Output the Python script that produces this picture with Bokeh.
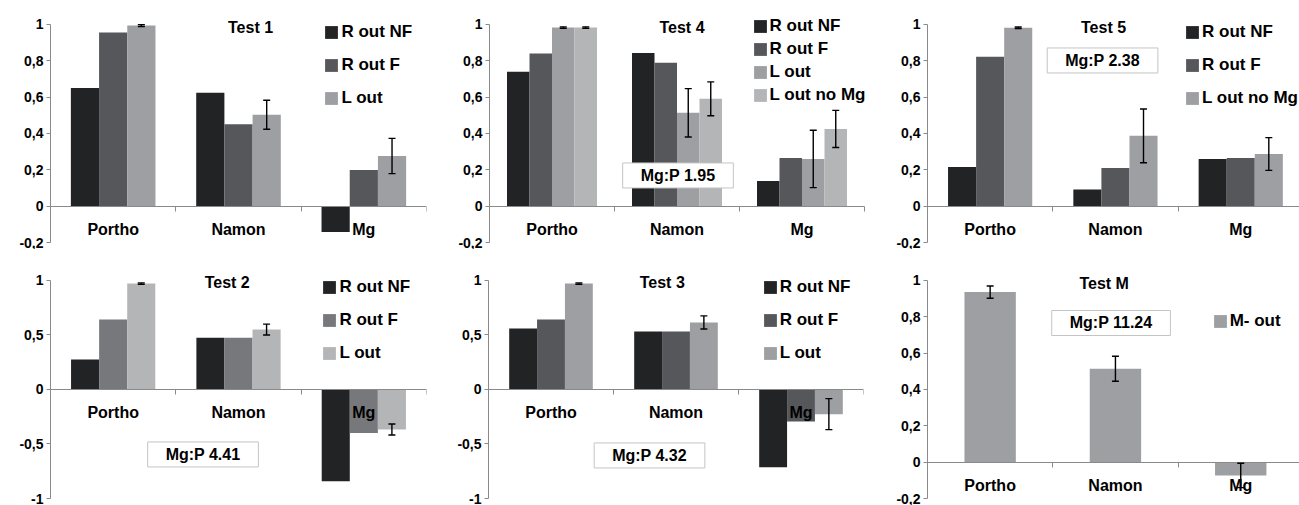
from bokeh.plotting import figure
from bokeh.models import (ColumnDataSource, Range1d, LinearAxis, FixedTicker,
                          CustomJSTickFormatter, Legend, LegendItem, Whisker,
                          TeeHead, Label)
from bokeh.layouts import row, column
from bokeh.embed import file_html
from bokeh.resources import INLINE

FONT = "Liberation Sans"

# ---------------- data ----------------
categories = ["Portho", "Namon", "Mg"]

yticks_a = [-0.2, 0, 0.2, 0.4, 0.6, 0.8, 1]
ylabels_a = ["-0,2", "0", "0,2", "0,4", "0,6", "0,8", "1"]
yticks_b = [-1, -0.5, 0, 0.5, 1]
ylabels_b = ["-1", "-0,5", "0", "0,5", "1"]

# Test 1
t1_labels = ["R out NF", "R out F", "L out"]
t1_nf = [0.65, 0.624, -0.142]
t1_f = [0.956, 0.451, 0.199]
t1_l = [0.994, 0.503, 0.276]
t1_l_err = [0.005, 0.08, 0.097]
t1_box = ""

# Test 4
t4_labels = ["R out NF", "R out F", "L out", "L out no Mg"]
t4_nf = [0.74, 0.843, 0.138]
t4_f = [0.84, 0.79, 0.265]
t4_l = [0.983, 0.514, 0.26]
t4_l_err = [0.004, 0.133, 0.158]
t4_lnm = [0.983, 0.591, 0.425]
t4_lnm_err = [0.004, 0.093, 0.102]
t4_box = "Mg:P 1.95"

# Test 5
t5_labels = ["R out NF", "R out F", "L out no Mg"]
t5_nf = [0.215, 0.092, 0.26]
t5_f = [0.823, 0.21, 0.265]
t5_lnm = [0.982, 0.387, 0.287]
t5_lnm_err = [0.004, 0.148, 0.09]
t5_box = "Mg:P 2.38"

# Test 2
t2_labels = ["R out NF", "R out F", "L out"]
t2_nf = [0.275, 0.474, -0.841]
t2_f = [0.642, 0.474, -0.40]
t2_l = [0.972, 0.55, -0.367]
t2_l_err = [0.006, 0.05, 0.05]
t2_box = "Mg:P 4.41"

# Test 3
t3_labels = ["R out NF", "R out F", "L out"]
t3_nf = [0.56, 0.532, -0.713]
t3_f = [0.642, 0.532, -0.294]
t3_l = [0.972, 0.615, -0.226]
t3_l_err = [0.006, 0.06, 0.142]
t3_box = "Mg:P 4.32"

# Test M
tm_labels = ["M- out"]
tm_m = [0.936, 0.514, -0.073]
tm_m_err = [0.034, 0.069, 0.067]
tm_box = "Mg:P 11.24"

# ---------------- style ----------------
C_NF = "#222325"
C_F = "#55575a"
C_F2 = "#77787b"
C_L = "#9d9fa2"
C_L2 = "#b3b5b7"
AXIS_C = "#8a8a8a"


def tick_formatter(vals, labels):
    return CustomJSTickFormatter(
        args=dict(tvals=vals, tlabels=labels),
        code="""
        for (let i = 0; i < tvals.length; i++) {
            if (Math.abs(tvals[i] - tick) < 1e-9) return tlabels[i];
        }
        return '';
        """)


def make_panel(series, yticks, ylabels, yr, ybounds, x_end, width, height,
               bl, br, bt, bb, bar_w, title, title_xy, box_text, box_xy,
               legend_xy, legend_spacing):
    p = figure(width=width, height=height, x_range=Range1d(0, x_end),
               y_range=Range1d(*yr), x_axis_type=None, y_axis_type=None,
               output_backend="svg", toolbar_location=None, title=None,
               min_border_left=bl, min_border_right=br, min_border_top=bt,
               min_border_bottom=bb)
    p.outline_line_color = None
    p.background_fill_color = "white"

    n = len(series)
    items = []
    for k, (label, vals, err, color) in enumerate(series):
        off = (k - (n - 1) / 2) * bar_w
        xs = [i + 0.5 + off for i in range(len(categories))]
        src = ColumnDataSource(dict(x=xs, top=vals))
        r = p.vbar(x="x", top="top", width=bar_w, source=src,
                   fill_color=color, line_color=None)
        items.append(LegendItem(label=label, renderers=[r]))
        if err is not None:
            wsrc = ColumnDataSource(dict(
                base=xs,
                upper=[v + e for v, e in zip(vals, err)],
                lower=[v - e for v, e in zip(vals, err)]))
            w = Whisker(source=wsrc, base="base", upper="upper", lower="lower",
                        line_color="black", line_width=1.4, level="overlay",
                        upper_head=TeeHead(size=7, line_color="black", line_width=1.4),
                        lower_head=TeeHead(size=7, line_color="black", line_width=1.4))
            p.add_layout(w)

    # y axis
    yax = LinearAxis(ticker=FixedTicker(ticks=yticks),
                     formatter=tick_formatter(yticks, ylabels), bounds=ybounds)
    yax.axis_line_color = AXIS_C
    yax.major_tick_line_color = AXIS_C
    yax.major_tick_out = 4
    yax.major_tick_in = 0
    yax.minor_tick_line_color = None
    yax.major_label_standoff = 3
    yax.major_label_text_font = FONT
    yax.major_label_text_font_style = "bold"
    yax.major_label_text_font_size = "14px"
    yax.major_label_text_color = "black"
    p.add_layout(yax, "left")

    # x axis line at zero with ticks at category boundaries
    nb = len(categories)
    xax = LinearAxis(fixed_location=0,
                     ticker=FixedTicker(ticks=list(range(nb + 1))),
                     formatter=tick_formatter([], []),
                     bounds=(0, min(nb, x_end)))
    xax.axis_line_color = AXIS_C
    xax.major_tick_line_color = AXIS_C
    xax.major_tick_out = 5
    xax.major_tick_in = 0
    xax.minor_tick_line_color = None
    xax.major_label_text_font_size = "0px"
    p.add_layout(xax, "below")

    # category labels
    centers = [i + 0.5 for i in range(nb)]
    cax = LinearAxis(fixed_location=0, ticker=FixedTicker(ticks=centers),
                     formatter=tick_formatter(centers, categories))
    cax.axis_line_color = None
    cax.major_tick_line_color = None
    cax.major_tick_out = 0
    cax.major_tick_in = 0
    cax.minor_tick_line_color = None
    cax.major_label_standoff = 15
    cax.major_label_text_font = FONT
    cax.major_label_text_font_style = "bold"
    cax.major_label_text_font_size = "16px"
    cax.major_label_text_color = "black"
    p.add_layout(cax, "below")

    # title
    p.add_layout(Label(x=title_xy[0], y=title_xy[1], text=title,
                       text_font=FONT, text_font_style="bold",
                       text_font_size="16px", text_align="center",
                       text_baseline="middle", text_color="black"))

    # Mg:P box
    if box_text:
        p.add_layout(Label(x=box_xy[0], y=box_xy[1], text=box_text,
                           text_font=FONT, text_font_style="bold",
                           text_font_size="16px", text_align="center",
                           text_baseline="middle", text_color="black",
                           border_line_color="#c4c4c4", border_line_width=1,
                           background_fill_color="white",
                           padding=(18, 18, 4, 4)))

    legend = Legend(items=items, location=legend_xy)
    legend.background_fill_alpha = 0
    legend.border_line_color = None
    legend.padding = 0
    legend.margin = 0
    legend.spacing = int(legend_spacing)
    legend.glyph_width = 16
    legend.glyph_height = 16
    legend.label_standoff = 2
    legend.label_height = 20
    legend.label_text_font = FONT
    legend.label_text_font_style = "bold"
    legend.label_text_font_size = "17px"
    legend.label_text_color = "black"
    p.add_layout(legend)
    return p


TOP_A = (-0.2, 1.099)
BOT_B = (-1.0, 1.165)

p1 = make_panel([(t1_labels[0], t1_nf, None, C_NF),
                 (t1_labels[1], t1_f, None, C_F),
                 (t1_labels[2], t1_l, t1_l_err, C_L)],
                yticks_a, ylabels_a, TOP_A, (-0.2, 1), 3, 438, 249, 50, 12, 6, 7,
                0.225, "Test 1", (1.596, 0.983), t1_box, (0, 0), (273.4, 134), 13)

p2 = make_panel([(t4_labels[0], t4_nf, None, C_NF),
                 (t4_labels[1], t4_f, None, C_F),
                 (t4_labels[2], t4_l, t4_l_err, C_L),
                 (t4_labels[3], t4_lnm, t4_lnm_err, C_L2)],
                yticks_a, ylabels_a, TOP_A, (-0.2, 1), 3.032, 430, 249, 51, 0, 6, 7,
                0.18, "Test 4", (1.54, 0.983), t4_box, (1.508, 0.169), (262.5, 137), 3)

p3 = make_panel([(t5_labels[0], t5_nf, None, C_NF),
                 (t5_labels[1], t5_f, None, C_F),
                 (t5_labels[2], t5_lnm, t5_lnm_err, C_L)],
                yticks_a, ylabels_a, TOP_A, (-0.2, 1), 2.969, 431, 249, 59, 0, 6, 7,
                0.224, "Test 5", (1.405, 0.983), t5_box, (1.397, 0.802), (257, 134), 13)

p4 = make_panel([(t2_labels[0], t2_nf, None, C_NF),
                 (t2_labels[1], t2_f, None, C_F2),
                 (t2_labels[2], t2_l, t2_l_err, C_L2)],
                yticks_b, ylabels_b, BOT_B, (-1, 1), 3, 438, 256, 50, 12, 13, 7,
                0.224, "Test 2", (1.41, 0.982), t2_box, (1.217, -0.596), (271.4, 135), 13)

p5 = make_panel([(t3_labels[0], t3_nf, None, C_NF),
                 (t3_labels[1], t3_f, None, C_F),
                 (t3_labels[2], t3_l, t3_l_err, C_L)],
                yticks_b, ylabels_b, BOT_B, (-1, 1), 3, 430, 256, 50, 5, 13, 7,
                0.223, "Test 3", (1.39, 0.982), t3_box, (1.288, -0.605), (273.7, 135), 13)

p6 = make_panel([(tm_labels[0], tm_m, tm_m_err, C_L)],
                yticks_a, ylabels_a, TOP_A, (-0.2, 1), 2.969, 431, 256, 59, 0, 13, 7,
                0.41, "Test M", (1.41, 0.983), tm_box, (1.465, 0.766), (284.7, 167), 0)

layout = column(row(p1, p2, p3), row(p4, p5, p6))

open("out.html", "w").write(file_html(layout, INLINE))
